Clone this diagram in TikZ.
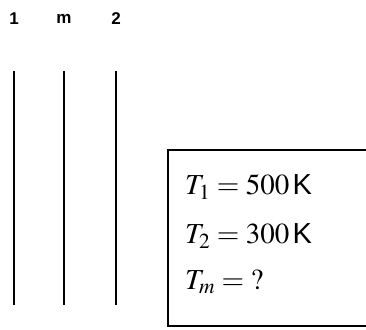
\documentclass[tikz,border=0pt]{standalone}
\usepackage{mathptmx}
\usepackage{fontspec}
\setmainfont{Liberation Serif}
\setsansfont{Liberation Sans}
\usepackage{tikz}

\begin{document}
\begin{tikzpicture}[x=1pt,y=1pt,
    wall/.style={line width=1.3pt},
    wallname/.style={font=\sffamily\bfseries\fontsize{17}{19}\selectfont},
    given/.style={anchor=west,font=\fontsize{29}{33}\selectfont,inner sep=0pt}]
        \useasboundingbox (0,0) rectangle (366,329);
        % walls 1, m, 2
        \foreach \name/\lab/\x in {one/1/14,mid/m/64,two/2/116} {
          \node[wallname] (\name) at (\x,310) {\lab};
          \coordinate (\name top) at (\x,258);
          \coordinate (\name bot) at (\x,24);
          \draw[wall] (\name top) -- (\name bot);
        }
        % data box, open to the right
        \draw[line width=1.2pt] (370,179) -- (168,179) -- (168,3) -- (370,3);
        \node[given] (tone) at (185,142) {$T_1 = 500\,\textsf{K}$};
        \node[given] (ttwo) at (185,93) {$T_2 = 300\,\textsf{K}$};
        \node[given] (tmid) at (185,47) {$T_m = {?}$};
      \end{tikzpicture}
\end{document}
